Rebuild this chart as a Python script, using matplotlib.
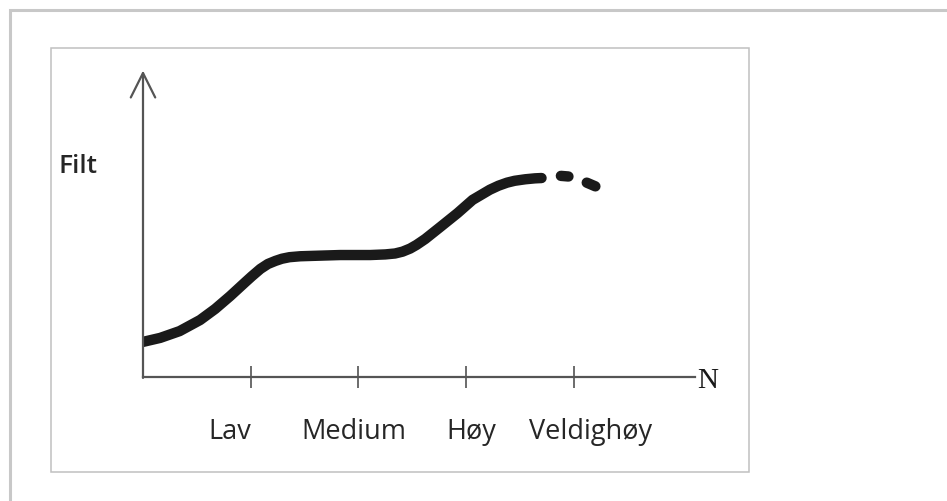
"""
Filt vs N sketch
"""
import numpy as np
import matplotlib.pyplot as plt
from matplotlib.patches import Rectangle

# curve (x: N units, tick at 1..4; y: arbitrary units)
curve_x = [0.00, 0.16, 0.34, 0.53, 0.67, 0.81, 0.95, 1.01, 1.09, 1.16, 1.23, 1.29, 1.36,
           1.46, 1.55, 1.83, 2.11, 2.25, 2.34, 2.41, 2.48, 2.54, 2.62, 2.76, 2.92, 3.06,
           3.22, 3.30, 3.38, 3.45, 3.55, 3.64, 3.70]
curve_y = [1.14, 1.27, 1.49, 1.85, 2.21, 2.63, 3.08, 3.27, 3.51, 3.67, 3.77, 3.84, 3.89,
           3.92, 3.93, 3.96, 3.96, 3.98, 4.01, 4.07, 4.17, 4.29, 4.48, 4.87, 5.32, 5.75,
           6.08, 6.21, 6.31, 6.37, 6.42, 6.45, 6.46]

# the two dashes at the end
dash_x = [[3.88, 3.95], [4.12, 4.20]]
dash_y = [[6.53, 6.51], [6.31, 6.19]]

tick_pos = [1, 2, 3, 4]
labels = ['Lav', 'Medium', 'Høy', 'Veldighøy']
label_x = [0.81, 1.96, 3.05, 4.16]

W, H = 947, 502
fig = plt.figure(figsize=(W / 100, H / 100), dpi=100)

# frames
fig.patches.append(Rectangle((9.5 / W, -0.05), 1.1, (H - 10.5) / H + 0.05, transform=fig.transFigure,
                             fill=False, edgecolor='#c8c8c8', linewidth=2.2))
fig.patches.append(Rectangle((50.5 / W, (H - 472.5) / H), 698 / W, 424 / H, transform=fig.transFigure,
                             fill=False, edgecolor='#c0c0c0', linewidth=1.1))

ax = fig.add_axes([143 / W, (H - 378) / H, (695 - 143) / W, (378 - 70) / H])
ax.set_xlim(0, 5.125)
ax.set_ylim(0, 10)
ax.patch.set_visible(False)

for s in ['top', 'right', 'left']:
    ax.spines[s].set_visible(False)
ax.spines['bottom'].set_color('#555555')
ax.spines['bottom'].set_linewidth(1.6)

ax.annotate('', xy=(0, 9.95), xytext=(0, -0.03),
            arrowprops=dict(arrowstyle='->, head_length=0.8, head_width=0.4', mutation_scale=22,
                            color='#555555', lw=1.6, shrinkA=0, shrinkB=0))

ax.set_xticks(tick_pos)
ax.set_xticklabels([])
ax.tick_params(axis='x', direction='inout', length=16, width=1.1, color='#444444')
ax.set_yticks([])

ax.plot(curve_x, curve_y, color='#1a1a1a', linewidth=7.5, solid_capstyle='round',
        solid_joinstyle='round')
for dx, dy in zip(dash_x, dash_y):
    ax.plot(dx, dy, color='#1a1a1a', linewidth=7.5, solid_capstyle='round')

for lx, lab in zip(label_x, labels):
    ax.text(lx, -1.75, lab, ha='center', va='center', fontsize=19.5, color='#262626',
            family='Open Sans', clip_on=False)

ax.text(-0.60, 6.88, 'Filt', ha='center', va='center', fontsize=19, color='#262626',
        family='Open Sans', fontweight='semibold', clip_on=False)
ax.text(5.24, -0.1, 'N', ha='center', va='center', fontsize=21, color='#1a1a1a',
        family='Liberation Serif', clip_on=False)

fig.savefig('out.png', dpi=100)
